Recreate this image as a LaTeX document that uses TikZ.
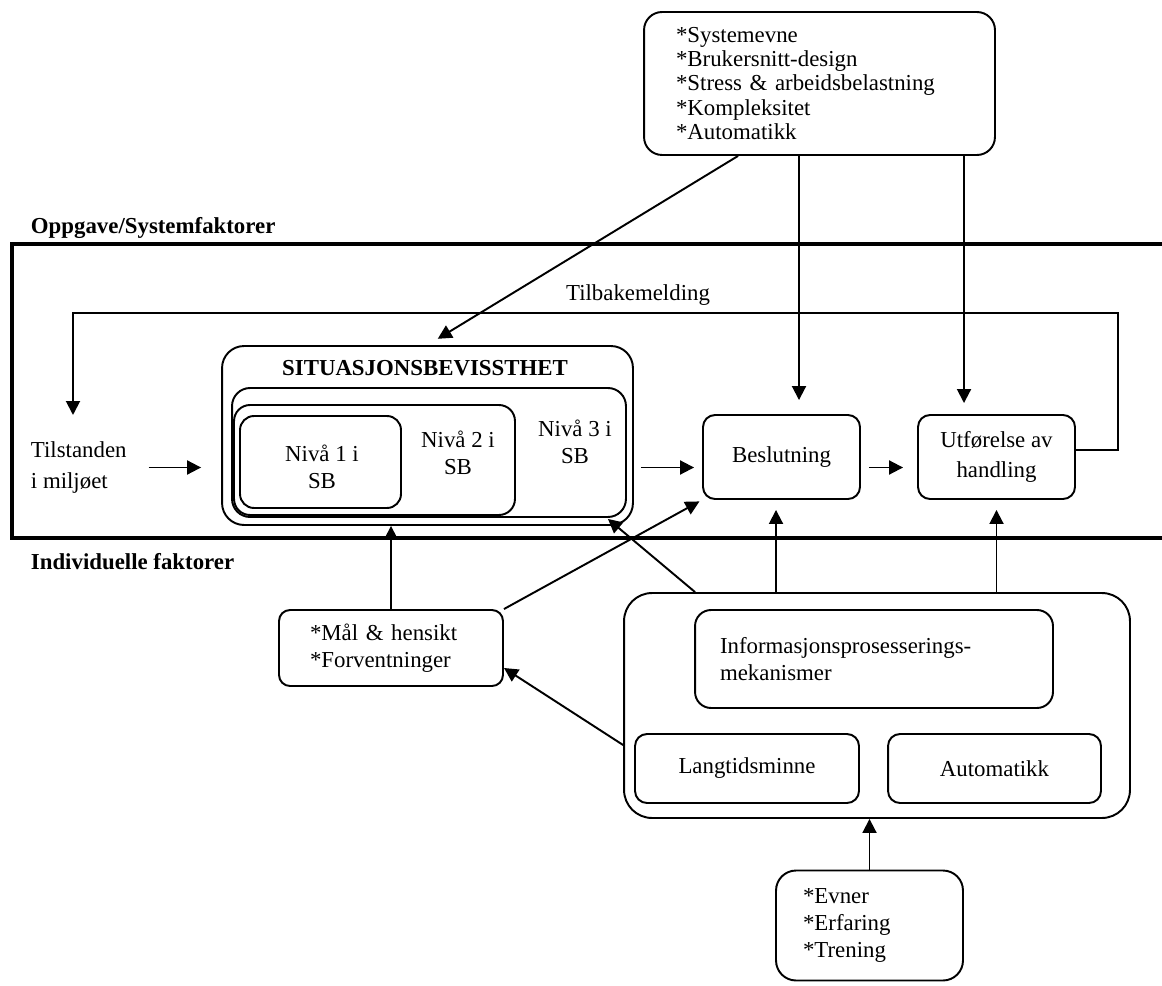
\documentclass[tikz,border=0pt]{standalone}
\usepackage{fontspec}
\setmainfont{Liberation Serif}
\usetikzlibrary{arrows.meta, positioning}

\begin{document}
\begin{tikzpicture}[x=0.02cm, y=-0.02cm, line width=1.1pt,
  font=\fontsize{13}{15.5}\selectfont,
  box/.style={rectangle, draw, line width=1.1pt, inner sep=0pt},
  label text/.style={inner sep=0pt, align=center},
  arr/.style={-{Triangle[length=0.28cm, width=0.28cm]}, line width=1.1pt},
  frame/.style={line width=2.3pt}]
\useasboundingbox (0,0) rectangle (1162,986);

% Oppgave/Systemfaktorer frame
\draw[frame] (12,244) rectangle (1185,538);
\node[label text, anchor=west, font=\fontsize{13}{15.5}\selectfont\bfseries] (oppg) at (30,228) {Oppgave/Systemfaktorer};
\node[label text, anchor=west, font=\fontsize{13}{15.5}\selectfont\bfseries] (indiv) at (30,562) {Individuelle faktorer};

% System factors on top
\node[box, rounded corners=0.36cm, text width=5.74cm, inner xsep=0.64cm, minimum height=2.86cm, align=left, font=\fontsize{13}{13.8}\selectfont] (sys) at (819.5,83.5) {*Systemevne\\{}*Brukersnitt-design\\{}*Stress \& arbeidsbelastning\\{}*Kompleksitet\\{}*Automatikk};

% Situasjonsbevissthet, nested levels
\node[box, rounded corners=0.44cm, minimum width=8.22cm, minimum height=3.58cm] (sa) at (427.5,435.5) {};
\node[box, rounded corners=0.36cm, minimum width=7.88cm, minimum height=2.58cm] (lvl3) at (429,452.5) {};
\node[box, rounded corners=0.32cm, minimum width=5.62cm, minimum height=2.2cm] (lvl2) at (374.5,460) {};
\node[box, rounded corners=0.28cm, minimum width=3.22cm, minimum height=1.84cm] (lvl1) at (320.5,462) {};
\node[label text, font=\fontsize{13}{15.5}\selectfont\bfseries] (satitle) at (425,368) {SITUASJONSBEVISSTHET};
\node[label text] (lvl1txt) at (322,466.5) {Nivå 1 i\\SB};
\node[label text] (lvl2txt) at (458,453) {Nivå 2 i\\SB};
\node[label text] (lvl3txt) at (575,441.5) {Nivå 3 i\\SB};

\node[label text, align=left, anchor=west, font=\fontsize{13}{17.5}\selectfont] (env) at (30,467.5) {Tilstanden\\i miljøet};
\node[box, rounded corners=0.24cm, minimum width=3.14cm, minimum height=1.68cm] (besl) at (781.5,457) {Beslutning};
\node[box, rounded corners=0.24cm, minimum width=3.14cm, minimum height=1.68cm, align=center, font=\fontsize{13}{17.5}\selectfont] (utf) at (996.5,457) {Utførelse av\\handling};
\node[label text] (tb) at (638,295) {Tilbakemelding};

% Individual factors
\node[box, rounded corners=0.22cm, text width=3.24cm, inner xsep=0.62cm, minimum height=1.52cm, align=left] (mal) at (391,648) {*Mål \& hensikt\\{}*Forventninger};
\node[box, rounded corners=0.56cm, minimum width=10.12cm, minimum height=4.5cm] (info) at (877,705.5) {};
\node[box, rounded corners=0.32cm, text width=6.16cm, inner xsep=0.5cm, minimum height=1.96cm, align=left] (ipm) at (874,659) {Informasjonsprosesserings-\\mekanismer};
\node[box, rounded corners=0.24cm, minimum width=4.48cm, minimum height=1.38cm] (ltm) at (747,768.5) {Langtidsminne};
\node[box, rounded corners=0.24cm, minimum width=4.26cm, minimum height=1.38cm] (aut) at (994.5,768.5) {Automatikk};
\node[box, rounded corners=0.4cm, text width=2.66cm, inner xsep=0.54cm, minimum height=2.2cm, align=left] (evner) at (869.5,925.5) {*Evner\\{}*Erfaring\\{}*Trening};

% connector end points
\coordinate (fbR) at (1118,313);
\coordinate (fbL) at (73,415);
\coordinate (utfOut) at ([yshift=0.14cm]utf.east);
\coordinate (sysA) at ([xshift=-1.63cm]sys.south);
\coordinate (beslIn) at ([xshift=0.35cm]besl.north);
\coordinate (utfIn) at ([xshift=-0.65cm]utf.north);
\coordinate (beslUp) at ([xshift=-0.11cm]besl.south);
\coordinate (infoA) at ([xshift=-3.64cm]info.north);
\coordinate (saHit) at ([xshift=-0.52cm,yshift=0.14cm]sa.south east);
\coordinate (infoB) at ([yshift=-0.79cm]info.west);
\coordinate (malIn) at ([yshift=-0.4cm]mal.east);

% Arrows
\draw[arr, shorten >=0.24cm] (sysA) -- (sa.north);
\draw[arr, shorten >=0.28cm] (sys.south -| beslIn) -- (beslIn);
\draw[arr, shorten >=0.22cm] (sys.south -| utfIn) -- (utfIn);
\draw[arr] (utfOut) -| (fbR) -| (fbL);
\draw[arr, shorten <=0.42cm, shorten >=0.4cm] (env.east) -- (env.east -| sa.west);
\draw[arr, shorten <=0.14cm, shorten >=0.16cm] (env.east -| sa.east) -- (env.east -| besl.west);
\draw[arr, shorten <=0.16cm, shorten >=0.28cm] (env.east -| besl.east) -- (env.east -| utf.west);
\draw[arr] (mal.north) -- (mal.north |- sa.south);
\draw[arr, shorten >=0.06cm] (mal.north east) -- (besl.south west);
\draw[arr] (infoA) -- (saHit);
\draw[arr, shorten >=0.2cm] (info.north -| beslUp) -- (beslUp);
\draw[arr, shorten >=0.2cm] (info.north -| utf.south) -- (utf.south);
\draw[arr] (infoB) -- (malIn);
\draw[arr] (evner.north) -- (evner.north |- info.south);
\end{tikzpicture}
\end{document}
